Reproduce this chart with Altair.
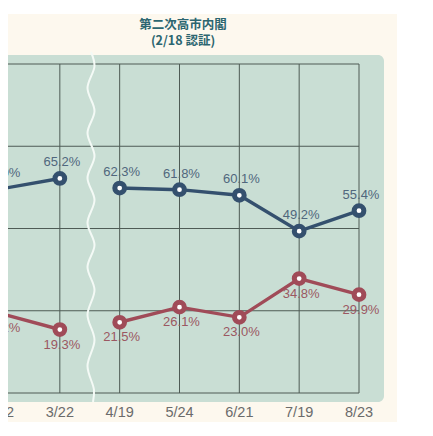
import altair as alt
import pandas as pd

# ---- data ----
dates = ["2/22", "3/22", "4/19", "5/24", "6/21", "7/19", "8/23"]
approve = [62.0, 65.2, 62.3, 61.8, 60.1, 49.2, 55.4]
disapprove = [24.2, 19.3, 21.5, 26.1, 23.0, 34.8, 29.9]
segment = [0, 0, 1, 1, 1, 1, 1]          # the line is broken between 3/22 and 4/19
grid_values = [0, 25, 50, 75, 100]
title_lines = ["第二次高市内閣", "(2/18 認証)"]

# decorative "break" squiggle (pixel coordinates inside the plot)
wave_x = [83, 86.5, 79.5, 86.5, 79.5, 86.5, 79.5, 86.5, 79.5, 86.5, 79.5, 86.5, 79.5, 86.5, 79.5, 86, 85]
wave_y = [-12, 2, 24, 47, 69, 92, 114, 136, 159, 181, 203, 226, 251, 276, 302, 326, 338]

# ---- style ----
BLUE = "#34506e"
RED = "#a04b58"
BLUE_TXT = "#50677d"
RED_TXT = "#9b5862"
GRID = "#4e5b55"
GREEN = "#c9ded4"
CREAM = "#fdf8ee"
TITLE = "#2c6670"
FONT = "Liberation Sans"

df = pd.DataFrame({"date": dates, "approve": approve, "disapprove": disapprove, "segment": segment})
long = df.melt(id_vars=["date", "segment"], value_vars=["approve", "disapprove"],
               var_name="series", value_name="v")
long["label"] = long["v"].map(lambda v: f"{v:.1f}%")

xscale = alt.Scale(type="point", domain=dates, range=[-8, 351], padding=0)
yscale = alt.Scale(domain=[0, 100], nice=False, zero=False)
X = alt.X("date:N", scale=xscale, axis=None)
Y = alt.Y("v:Q", scale=yscale, axis=None)
cscale = alt.Scale(domain=["approve", "disapprove"], range=[BLUE, RED])

one = pd.DataFrame({"k": [0]})

cream = alt.Chart(one).mark_rect(color=CREAM).encode(
    x=alt.value(-20), x2=alt.value(389), y=alt.value(-50), y2=alt.value(420))
green = alt.Chart(one).mark_rect(color=GREEN, cornerRadius=6).encode(
    x=alt.value(-20), x2=alt.value(376), y=alt.value(-9), y2=alt.value(338))

vgrid = alt.Chart(pd.DataFrame({"date": dates})).mark_rule(color=GRID, strokeWidth=1).encode(x=X)
hgrid = alt.Chart(pd.DataFrame({"v": grid_values})).mark_rule(color=GRID, strokeWidth=1).encode(y=Y)

wave = alt.Chart(pd.DataFrame({"wx": wave_x, "wy": wave_y, "i": list(range(len(wave_x)))})).mark_line(
    color="#f4faf6", strokeWidth=2, interpolate="catmull-rom").encode(
    x=alt.X("wx:Q", scale=None, axis=None),
    y=alt.Y("wy:Q", scale=None, axis=None),
    order="i:Q")

lines = alt.Chart(long).mark_line(strokeWidth=3.4).encode(
    x=X, y=Y,
    color=alt.Color("series:N", scale=cscale, legend=None),
    detail=["series:N", "segment:N"])

points = alt.Chart(long).mark_point(shape="circle", filled=True, size=95, strokeWidth=5, opacity=1).encode(
    x=X, y=Y,
    fill=alt.value("white"),
    stroke=alt.Stroke("series:N", scale=cscale, legend=None))

lab_a = alt.Chart(long).transform_filter("datum.series == 'approve'").mark_text(
    font=FONT, fontSize=13, color=BLUE_TXT, dy=-16, dx=2, baseline="middle").encode(
    x=X, y=Y, text="label:N")
lab_d = alt.Chart(long).transform_filter("datum.series == 'disapprove'").mark_text(
    font=FONT, fontSize=13, color=RED_TXT, dy=15, dx=2, baseline="middle").encode(
    x=X, y=Y, text="label:N")

xlabels = alt.Chart(pd.DataFrame({"date": dates})).mark_text(
    font=FONT, fontSize=14.5, color="#6b6b6b", baseline="middle").encode(
    x=X, y=alt.value(349), text="date:N")

title = alt.Chart(one).mark_text(font="Noto Sans CJK JP", fontSize=12.5, fontWeight="bold",
                                 color=TITLE, baseline="middle", lineHeight=16).encode(
    x=alt.value(175), y=alt.value(-39), text=alt.value(title_lines))

chart = alt.layer(cream, green, vgrid, hgrid, wave, lines, points, lab_a, lab_d, xlabels, title).resolve_scale(
    x="independent", y="independent"
).properties(
    width=351, height=329,
    padding={"left": 0, "top": 56, "right": 59, "bottom": 29},
    autosize=alt.AutoSizeParams(type="none"),
    background="white",
).configure_view(stroke=None)

chart.save("out.html", embed_options={"renderer": "svg", "actions": False})
